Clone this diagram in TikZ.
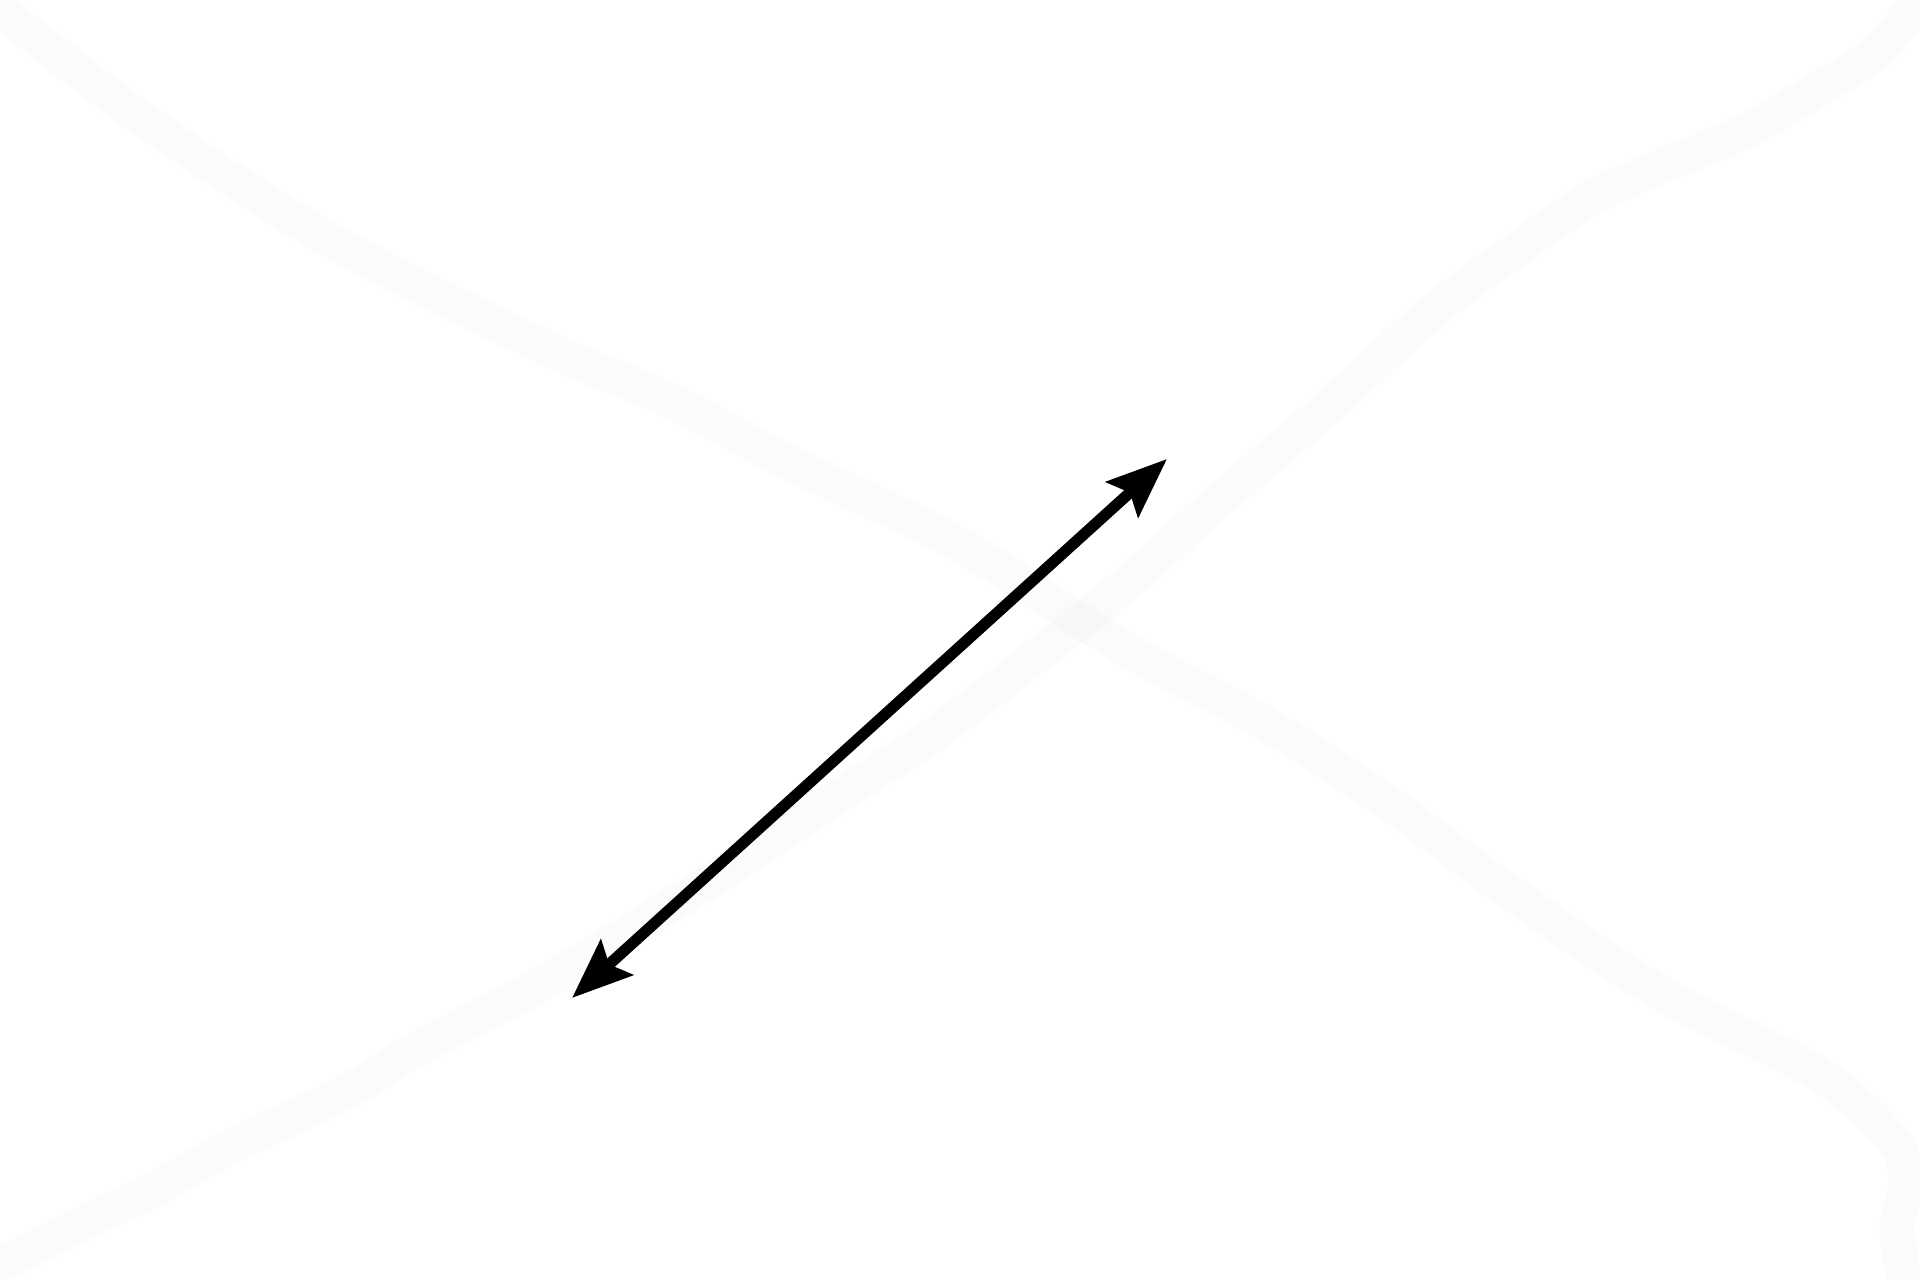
\documentclass[tikz,border=0pt]{standalone}
\usepackage{tikz}
\usetikzlibrary{arrows.meta}

\begin{document}
\begin{tikzpicture}[x=0.01cm,y=-0.01cm,
    trace/.style={line width=10pt,line cap=round,line join=round,black,opacity=0.014},
    dbl/.style={line width=3.2pt,{Stealth[length=6mm,width=4.7mm,inset=1mm]}-{Stealth[length=6mm,width=4.7mm,inset=1mm]}}]
      \useasboundingbox (0,0) rectangle (1920,1280);
      \draw[trace] plot[smooth,tension=0.6] coordinates {(-10,2) (122,104) (245,188) (367,260) (551,350) (673,402) (796,466) (960,545) (1131,652) (1266,724) (1401,812) (1511,893) (1664,995) (1817,1073) (1891,1138) (1906,1179) (1897,1228) (1906,1290)};
      \draw[trace] plot[smooth,tension=0.6] coordinates {(-10,1270) (96,1217) (153,1190) (230,1147) (344,1093) (421,1047) (536,987) (661,912) (882,768) (960,715) (1113,595) (1217,502) (1327,408) (1435,310) (1530,240) (1588,200) (1645,173) (1741,133) (1817,90) (1875,53) (1913,10) (1935,-10)};
      \coordinate (lo) at (572,998);
      \coordinate (hi) at (1167,459);
      \draw[dbl] (lo) -- (hi);
    \end{tikzpicture}
\end{document}
